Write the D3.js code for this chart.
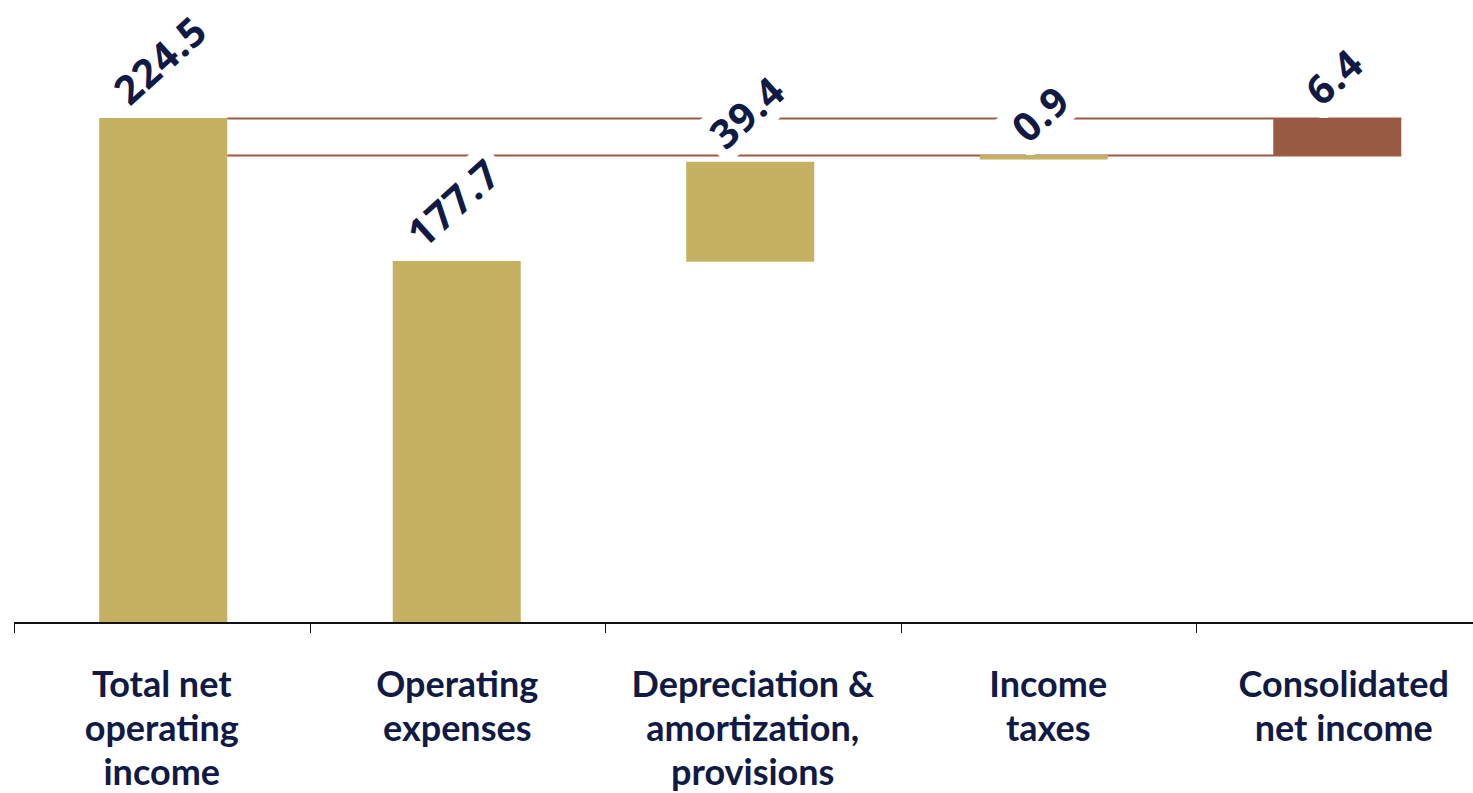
<!DOCTYPE html>
<html>
<head>
<meta charset="utf-8">
<script src="https://cdn.jsdelivr.net/npm/d3@7"></script>
<style>
  html, body { margin: 0; padding: 0; background: #fff; }
  svg { display: block; }
</style>
</head>
<body>
<svg id="chart"></svg>
<script>
// categories (line breaks as in the original)
var categories = [
  ['Total net', 'operating', 'income'],
  ['Operating', 'expenses'],
  ['Depreciation &', 'amortization,', 'provisions'],
  ['Income', 'taxes'],
  ['Consolidated', 'net income']
];

// printed values
var labels = ['224.5', '177.7', '39.4', '0.9', '6.4'];

// bar extents as drawn (bottom / top, same units as the first bar)
var barLow = [0, 0, 160.5, 206.0, 208.0];
var barHigh = [224.5, 160.8, 205.0, 208.0, 224.5];

// connector levels
var levels = [224.5, 208.0];

var isTotal = [false, false, false, false, true];

var width = 1473;
var height = 793;
var axisY = 622;
var topY = 118;

var textColor = '#101a44';
var barColor = '#c4b163';
var totalColor = '#985a42';
var lineColor = '#9c5b46';

var svg = d3.select('#chart')
  .attr('width', width)
  .attr('height', height);

var idx = d3.range(categories.length);

// category slots (ticks + labels)
var x = d3.scaleBand()
  .domain(idx)
  .range([14, 14 + 295.5 * idx.length])
  .padding(0);

// bar slots
var xBar = d3.scaleBand()
  .domain(idx)
  .range([16.5, 16.5 + 293.5 * idx.length])
  .padding(0);

var barWidth = 128;

var y = d3.scaleLinear()
  .domain([0, 224.5])
  .range([axisY, topY]);

var barX = function(i) { return xBar(i) + (xBar.bandwidth() - barWidth) / 2; };

// connector lines from first bar to last bar
svg.selectAll('line.level')
  .data(levels)
  .enter().append('line')
  .attr('class', 'level')
  .attr('x1', barX(0) + barWidth)
  .attr('x2', barX(idx.length - 1) + barWidth)
  .attr('y1', function(d) { return Math.round(y(d)) + 0.5; })
  .attr('y2', function(d) { return Math.round(y(d)) + 0.5; })
  .attr('stroke', lineColor)
  .attr('stroke-width', 2);

// value labels: white boxes go under the bars, text on top
var angle = -42;
var boxLayer = svg.append('g');
var barLayer = svg.append('g');
var textLayer = svg.append('g');

barLayer.selectAll('rect.bar')
  .data(idx)
  .enter().append('rect')
  .attr('class', 'bar')
  .attr('x', barX)
  .attr('width', barWidth)
  .attr('y', function(i) { return y(barHigh[i]); })
  .attr('height', function(i) { return y(barLow[i]) - y(barHigh[i]); })
  .attr('fill', function(i) { return isTotal[i] ? totalColor : barColor; });

var vText = textLayer.selectAll('text.vlabel')
  .data(idx)
  .enter().append('text')
  .attr('class', 'vlabel')
  .attr('text-anchor', 'middle')
  .attr('dy', '0.36em')
  .style('font-family', '"Open Sans", sans-serif')
  .style('font-weight', 700)
  .style('font-size', '40px')
  .style('letter-spacing', '1px')
  .attr('fill', textColor)
  .text(function(i) { return labels[i]; });

vText.each(function(i) {
  var t = d3.select(this);
  var w = this.getComputedTextLength();
  var off = 0.7 * w / 2 + 20;
  var cx = xBar(i) + xBar.bandwidth() / 2 - 3;
  var cy = y(barHigh[i]) - off;
  var tr = 'translate(' + cx + ',' + cy + ') rotate(' + angle + ')';
  t.attr('transform', tr);
  boxLayer.append('rect')
    .attr('transform', tr)
    .attr('x', -w / 2 - 8)
    .attr('width', w + 16)
    .attr('y', -26)
    .attr('height', 52)
    .attr('fill', '#fff');
});

// axis line and ticks
var axis = svg.append('g').attr('class', 'axis');

axis.append('line')
  .attr('x1', x.range()[0])
  .attr('x2', width)
  .attr('y1', axisY + 1)
  .attr('y2', axisY + 1)
  .attr('stroke', '#111')
  .attr('stroke-width', 2);

axis.selectAll('line.tick')
  .data(idx)
  .enter().append('line')
  .attr('class', 'tick')
  .attr('x1', function(i) { return Math.round(x(i)) + 0.5; })
  .attr('x2', function(i) { return Math.round(x(i)) + 0.5; })
  .attr('y1', axisY)
  .attr('y2', axisY + 11)
  .attr('stroke', '#111')
  .attr('stroke-width', 1);

// category labels
var catText = svg.selectAll('text.cat')
  .data(idx)
  .enter().append('text')
  .attr('class', 'cat')
  .attr('text-anchor', 'middle')
  .attr('x', function(i) { return x(i) + x.bandwidth() / 2; })
  .attr('y', 697)
  .style('font-family', 'Lato, sans-serif')
  .style('font-weight', 700)
  .style('font-size', '36px')
  .attr('fill', textColor);

catText.selectAll('tspan')
  .data(function(i) { return categories[i]; })
  .enter().append('tspan')
  .attr('x', function() { return d3.select(this.parentNode).attr('x'); })
  .attr('dy', function(d, k) { return k === 0 ? 0 : 44; })
  .text(function(d) { return d; });
</script>
</body>
</html>
